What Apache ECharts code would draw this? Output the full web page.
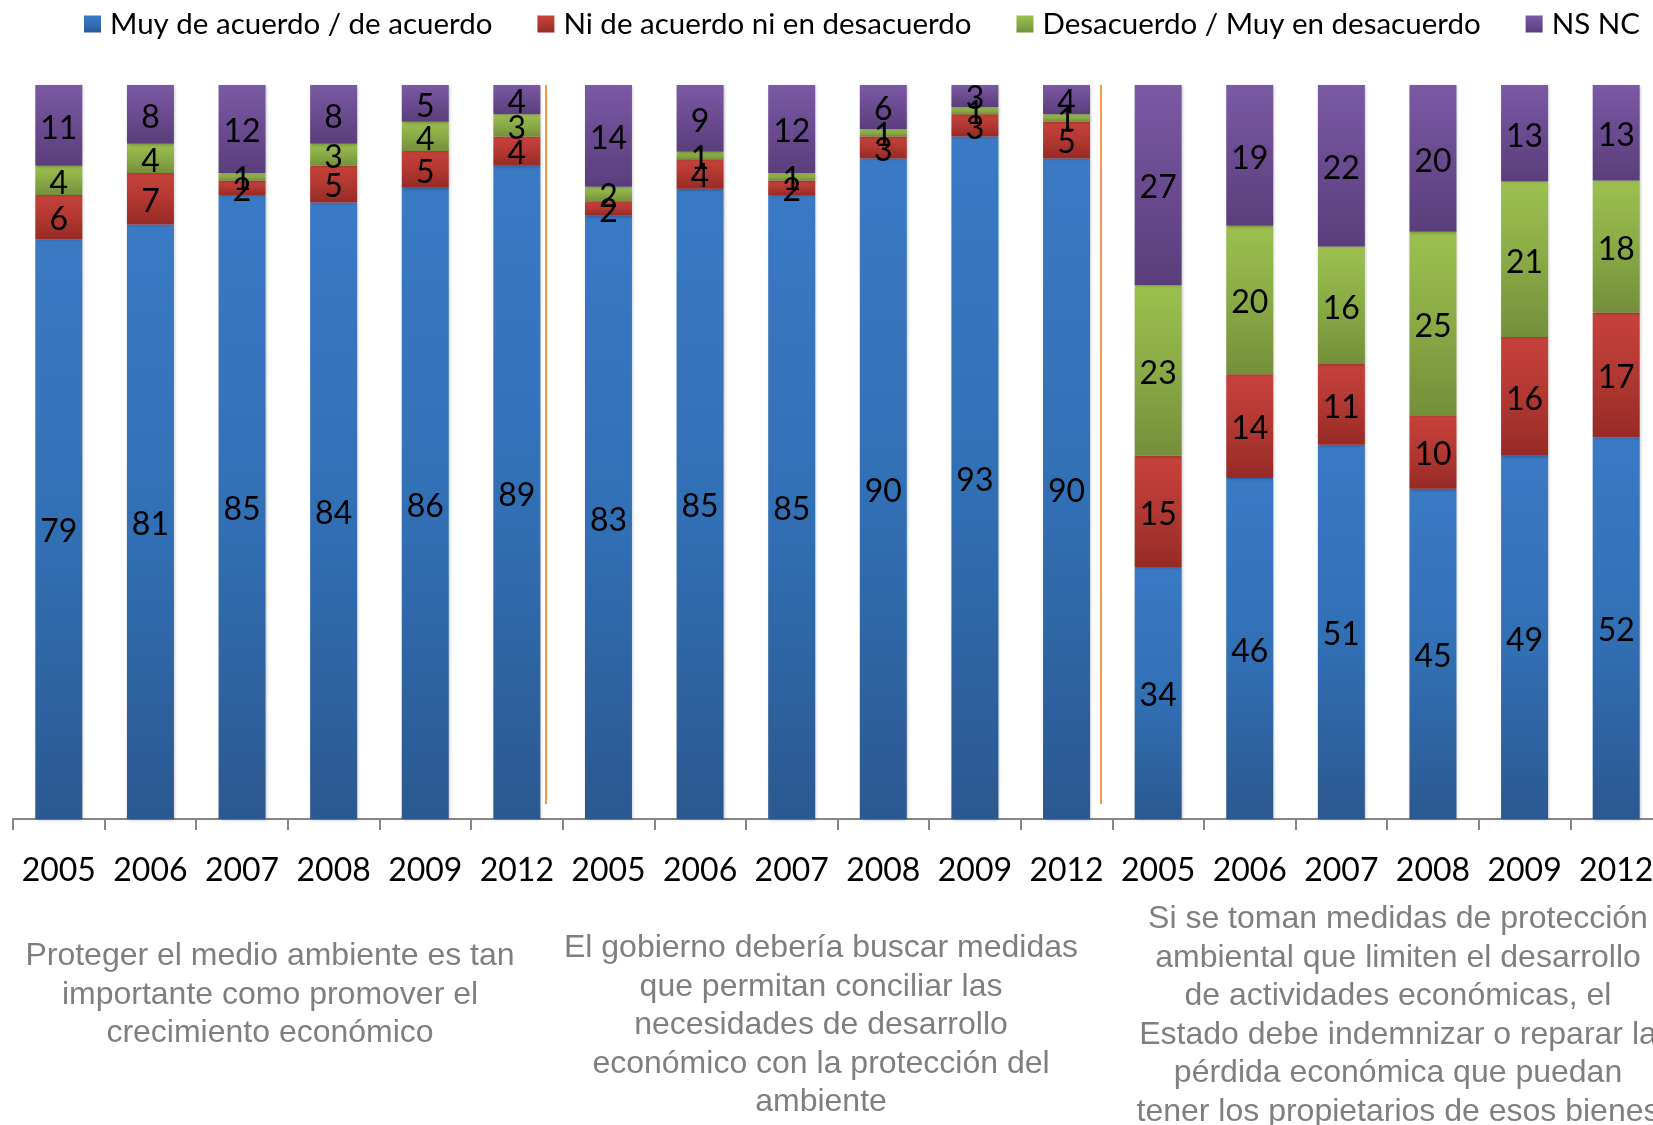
<!DOCTYPE html>
<html>
<head>
<meta charset="utf-8">
<script src="https://cdn.jsdelivr.net/npm/echarts@6/dist/echarts.min.js"></script>
<style>
  html, body { margin: 0; padding: 0; background: #fff; }
  #main { width: 1653px; height: 1125px; }
</style>
</head>
<body>
<div id="main"></div>
<script>
// categorias (tres preguntas x seis años)
var years = ['2005', '2006', '2007', '2008', '2009', '2012',
             '2005', '2006', '2007', '2008', '2009', '2012',
             '2005', '2006', '2007', '2008', '2009', '2012'];

// porcentajes
var acuerdo    = [79, 81, 85, 84, 86, 89,  83, 85, 85, 90, 93, 90,  34, 46, 51, 45, 49, 52];
var neutral    = [ 6,  7,  2,  5,  5,  4,   2,  4,  2,  3,  3,  5,  15, 14, 11, 10, 16, 17];
var desacuerdo = [ 4,  4,  1,  3,  4,  3,   2,  1,  1,  1,  1,  1,  23, 20, 16, 25, 21, 18];
var nsnc       = [11,  8, 12,  8,  5,  4,  14,  9, 12,  6,  3,  4,  27, 19, 22, 20, 13, 13];

var seriesNames = ['Muy de acuerdo / de acuerdo', 'Ni de acuerdo ni en desacuerdo',
                   'Desacuerdo / Muy en desacuerdo', 'NS NC'];

// separadores entre preguntas (en unidades de categoria)
var separators = [5.815, 11.874];

var titulo1 = ['Proteger el medio ambiente es tan', 'importante como promover el', 'crecimiento económico'];
var titulo2 = ['El gobierno debería buscar medidas', 'que permitan conciliar las', 'necesidades de desarrollo',
               'económico con la protección del', 'ambiente'];
var titulo3 = ['Si se toman medidas de protección', 'ambiental que limiten el desarrollo',
               'de actividades económicas, el', 'Estado debe indemnizar o reparar la',
               'pérdida económica que puedan', 'tener los propietarios de esos bienes'];

var raws = [acuerdo, neutral, desacuerdo, nsnc];

function grad(top, mid, bottom) {
  return new echarts.graphic.LinearGradient(0, 0, 0, 1, [
    { offset: 0, color: top },
    { offset: 0.5, color: mid },
    { offset: 1, color: bottom }
  ]);
}
var colors = [
  grad('#3A79C4', '#3270B6', '#2B5890'),
  grad('#C7423B', '#B23832', '#972A26'),
  grad('#9CC04F', '#8AAA46', '#748F3A'),
  grad('#7B59A5', '#6A4B90', '#5A3E7B')
];

// 100% apilado
var totals = years.map(function (y, i) {
  return acuerdo[i] + neutral[i] + desacuerdo[i] + nsnc[i];
});

var myChart = echarts.init(document.getElementById('main'));

var series = raws.map(function (arr, s) {
  return {
    name: seriesNames[s],
    type: 'bar',
    stack: 'total',
    barWidth: 47,
    data: arr.map(function (v, i) { return v / totals[i] * 100; }),
    itemStyle: {
      color: colors[s],
      shadowBlur: 3,
      shadowColor: 'rgba(0,0,0,0.25)',
      shadowOffsetX: 1,
      shadowOffsetY: 1
    },
    label: {
      show: true,
      position: 'inside',
      offset: [0, 3],
      color: '#000',
      fontFamily: 'Lato',
      fontSize: 32,
      textBorderWidth: 0,
      formatter: function (p) { return raws[p.seriesIndex][p.dataIndex]; }
    }
  };
});

series.push({
  type: 'line',
  xAxisIndex: 1,
  data: [],
  silent: true,
  markLine: {
    silent: true,
    symbol: ['none', 'none'],
    label: { show: false },
    lineStyle: { color: '#F79646', width: 2, type: 'solid' },
    data: separators.map(function (x) {
      return [{ coord: [x, 2] }, { coord: [x, 100] }];
    })
  }
});

function titleText(lines, x, y) {
  return {
    type: 'text',
    x: x,
    y: y,
    style: {
      text: lines.join('\n'),
      align: 'center',
      verticalAlign: 'top',
      fontFamily: 'Liberation Sans',
      fontSize: 32,
      lineHeight: 38.5,
      fill: '#7F7F7F'
    }
  };
}

myChart.setOption({
  animation: false,
  legend: {
    data: seriesNames,
    left: 84,
    top: 9,
    padding: 0,
    icon: 'rect',
    itemWidth: 17,
    itemHeight: 17,
    itemGap: 45,
    textStyle: { fontFamily: 'Lato', fontSize: 29.5, color: '#000', padding: [0, 0, 0, 4] }
  },
  grid: { left: 13, top: 85, width: 1649, height: 734, outerBoundsMode: 'none' },
  xAxis: [{
    type: 'category',
    data: years,
    axisLine: { lineStyle: { color: '#868686', width: 2 } },
    axisTick: { show: true, length: 11, lineStyle: { color: '#868686', width: 2 } },
    axisLabel: { interval: 0, color: '#000', fontFamily: 'Lato', fontSize: 32, margin: 36 }
  }, {
    type: 'value',
    min: 0,
    max: 18,
    show: false
  }],
  yAxis: { type: 'value', min: 0, max: 100, show: false },
  graphic: [
    titleText(titulo1, 270, 937),
    titleText(titulo2, 821, 929),
    titleText(titulo3, 1398, 900)
  ],
  series: series
});
</script>
</body>
</html>
